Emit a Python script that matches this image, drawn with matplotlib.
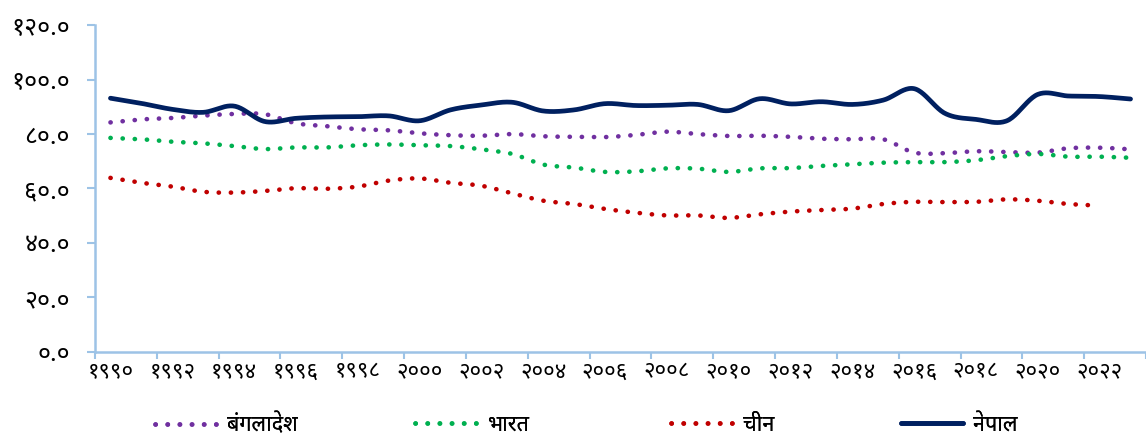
import matplotlib
matplotlib.use("Agg")
import matplotlib.pyplot as plt
from matplotlib import font_manager as fm
import numpy as np

# data, years 1990-2023
years = list(range(1990, 2024))
nepal = [93.2, 91.3, 89.1, 88.0, 90.3, 84.6, 85.8, 86.3, 86.4, 86.7,
         84.9, 88.9, 90.7, 91.7, 88.5, 88.9, 91.2, 90.5, 90.6, 90.9,
         88.6, 93.0, 91.1, 91.9, 90.9, 92.5, 96.7, 87.6, 85.4, 84.9,
         94.6, 94.0, 93.8, 92.9]
bangladesh = [84.3, 85.4, 85.9, 86.8, 87.4, 87.3, 84.0, 82.9, 81.8, 81.4,
              80.3, 79.6, 79.4, 80.0, 79.2, 79.0, 78.9, 79.7, 80.9, 80.0,
              79.3, 79.4, 79.0, 78.3, 78.1, 78.1, 73.2, 73.0, 73.7, 73.4,
              73.2, 74.8, 75.0, 74.4]
india = [78.6, 78.1, 77.2, 76.6, 75.6, 74.5, 75.1, 75.1, 75.9, 76.2,
         75.9, 75.6, 74.4, 72.7, 68.8, 67.7, 66.1, 66.3, 67.4, 67.3,
         66.1, 67.4, 67.5, 68.3, 68.9, 69.5, 69.7, 69.7, 70.4, 71.9,
         72.7, 71.7, 71.7, 71.3]
china = [63.9, 62.1, 60.7, 58.8, 58.5, 59.1, 60.1, 59.9, 60.7, 62.9,
         63.7, 62.1, 61.0, 58.2, 55.5, 54.3, 52.5, 51.1, 50.1, 50.1,
         49.2, 50.5, 51.5, 52.1, 52.6, 54.3, 55.1, 55.0, 55.1, 56.0,
         55.5, 54.3, 53.7]

labels = ["बंगलादेश", "भारत", "चीन", "नेपाल"]
colors = ["#7030A0", "#00B050", "#C00000", "#002060"]

DEV = str.maketrans("0123456789", "०१२३४५६७८९")


def pick_font():
    have = {f.name for f in fm.fontManager.ttflist}
    for name in ["Noto Sans Devanagari", "Mukta", "Hind", "Poppins",
                 "Yantramanav", "Vesper Libre", "Unifont"]:
        if name in have:
            return name
    return "DejaVu Sans"


FONT = [pick_font(), "DejaVu Sans"]
plt.rcParams["font.family"] = FONT


def smooth(xs, ys, n=24):
    # excel-like smoothed line (catmull-rom as bezier)
    p = np.column_stack([xs, ys]).astype(float)
    p = np.vstack([p[0], p, p[-1]])
    t = np.linspace(0, 1, n)[:, None]
    out = []
    for i in range(1, len(p) - 2):
        p0, p1, p2, p3 = p[i - 1], p[i], p[i + 1], p[i + 2]
        c1 = p1 + (p2 - p0) / 6
        c2 = p2 - (p3 - p1) / 6
        seg = ((1 - t) ** 3) * p1 + 3 * ((1 - t) ** 2) * t * c1 \
            + 3 * (1 - t) * t ** 2 * c2 + t ** 3 * p2
        out.append(seg if i == 1 else seg[1:])
    out = np.vstack(out)
    return out[:, 0], out[:, 1]


fig = plt.figure(figsize=(11.46, 4.36), dpi=100)
ax = fig.add_axes([95 / 1146, 84.3 / 436, 1 - 95 / 1146, 326.4 / 436])

series = [bangladesh, india, china, nepal]
handles = []
for vals, lab, col in zip(series, labels, colors):
    xs = np.arange(len(vals))
    sx, sy = smooth(xs, vals)
    if lab == "नेपाल":
        h, = ax.plot(sx, sy, color=col, lw=3.4, solid_capstyle="round",
                     label=lab)
    else:
        h, = ax.plot(sx, sy, color=col, lw=3.3, linestyle=(0, (0.05, 2.6)),
                     dash_capstyle="round", label=lab)
    handles.append(h)

ax.set_xlim(-0.5, len(years) - 0.5)
ax.set_ylim(0, 120)
ax.set_yticks(np.arange(0, 121, 20))
ax.set_yticklabels([f"{v:.1f}".translate(DEV) for v in np.arange(0, 121, 20)],
                   fontsize=18)

# ticks on category borders, labels in the middle
ax.set_xticks(np.arange(-0.5, len(years), 2))
ax.set_xticklabels([])
ax.set_xticks(np.arange(0, len(years), 2), minor=True)
ax.set_xticklabels([str(y).translate(DEV) for y in years[::2]], minor=True,
                   fontsize=16)
ax.tick_params(axis="x", which="minor", length=0, pad=7)
ax.tick_params(axis="x", which="major", length=5, color="#9DC3E6", width=1.5)
ax.tick_params(axis="y", length=6, color="#9DC3E6", width=1.5, pad=12)

for s in ["top", "right"]:
    ax.spines[s].set_visible(False)
for s in ["left", "bottom"]:
    ax.spines[s].set_color("#9DC3E6")
    ax.spines[s].set_linewidth(1.8)

# legend: one entry per slot, like the excel layout
slots = [155, 415, 671, 901]
for h, lab, x in zip(handles, labels, slots):
    lg = fig.legend([h], [lab], loc="center left",
                    bbox_to_anchor=(x / 1146, 11 / 436), frameon=False,
                    borderpad=0, borderaxespad=0, handlelength=2.9,
                    handletextpad=0.45, fontsize=15.5)
    fig.add_artist(lg)

fig.savefig("out.png", dpi=100)
